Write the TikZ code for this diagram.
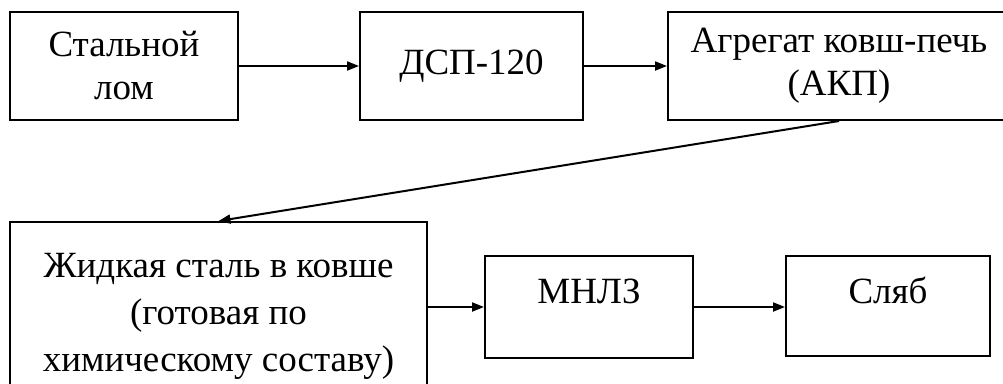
\documentclass[tikz,border=0pt]{standalone}
\usepackage{fontspec}
\setmainfont{Liberation Serif}
\usetikzlibrary{arrows.meta}
\tikzset{
  stage/.style={draw,line width=2pt,rectangle,align=center,inner sep=0pt,
    font=\fontsize{37}{43}\selectfont},
  flow/.style={line width=2pt,-{Triangle[length=12pt,width=9pt]}}
}
\begin{document}
\begin{tikzpicture}[x=1pt,y=-1pt]
        \useasboundingbox (0,0) rectangle (1003,383);
        \clip (0,0) rectangle (1003,383);
        %% Top row
        \node[stage,minimum width=228pt,minimum height=108pt] (lom) at (124,66) {Стальной\\лом};
        \node[stage,minimum width=223pt,minimum height=108pt] (dsp) at (471.5,66) {ДСП-120};
        \node[stage,minimum width=342pt,minimum height=108pt] (akp) at (839,66) {Агрегат ковш-печь\\(АКП)};
        %% Bottom row
        \node[stage,minimum width=417pt,minimum height=188pt,font=\fontsize{37}{47}\selectfont] (steel) at (218.5,316) {Жидкая сталь в ковше\\(готовая по\\химическому составу)};
        \node[stage,minimum width=208pt,minimum height=102pt,text depth=32pt] (mnlz) at (589,307) {МНЛЗ};
        \node[stage,minimum width=204pt,minimum height=100pt,text depth=32pt] (slab) at (888,306) {Сляб};
        %% Arrows
        \draw[flow] (lom) -- (dsp);
        \draw[flow] (dsp) -- (akp);
        \draw[flow] (akp.south) -- (steel.north);
        \draw[flow] (steel.east |- mnlz.west) -- (mnlz.west);
        \draw[flow] (mnlz.east) -- (slab.west |- mnlz.east);
    \end{tikzpicture}
\end{document}
